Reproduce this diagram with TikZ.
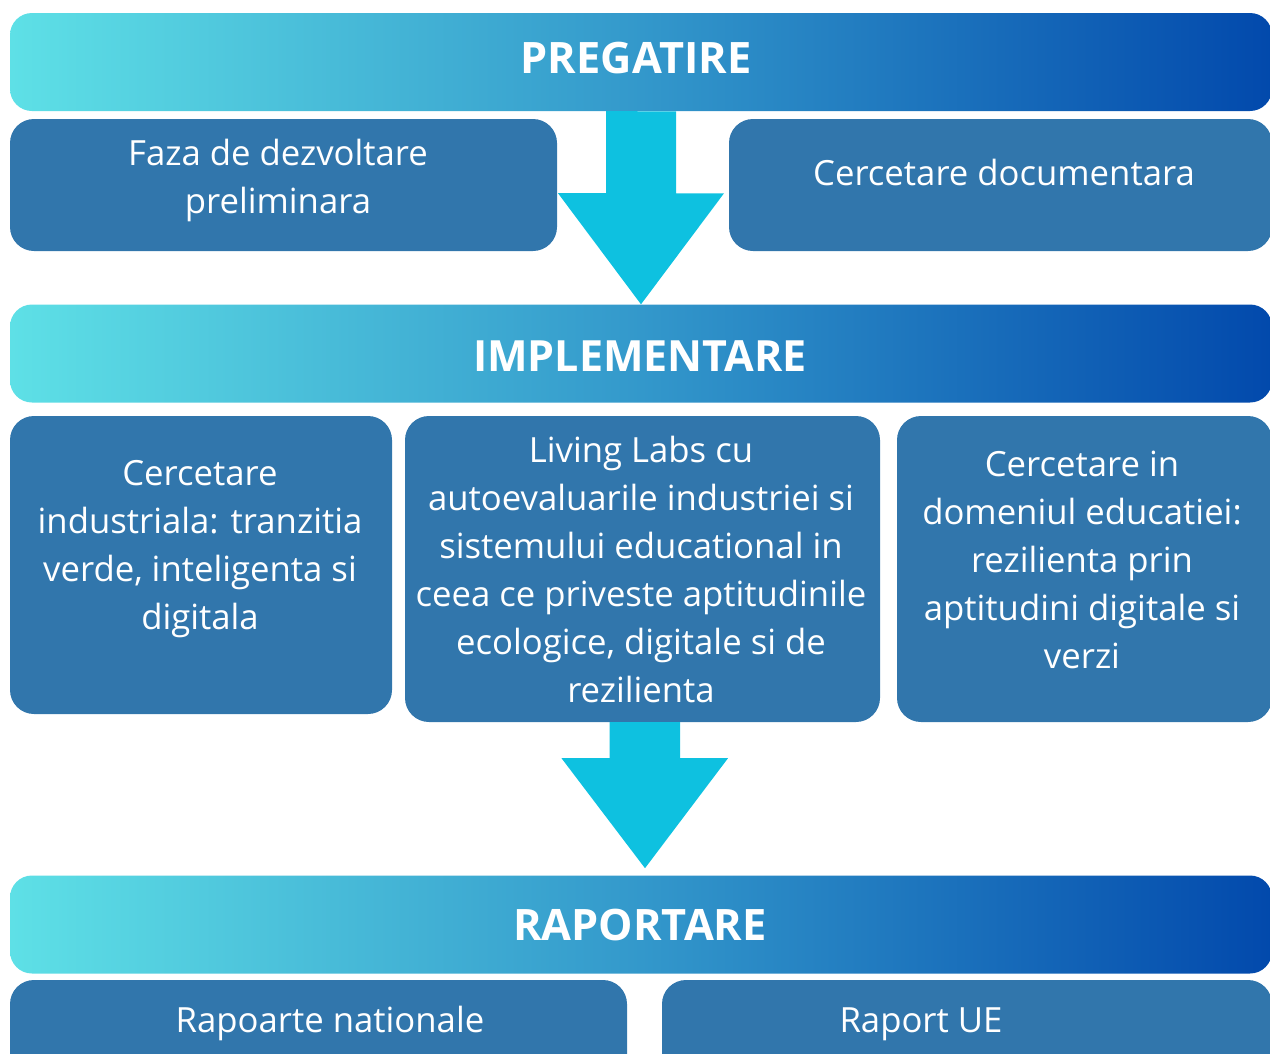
\documentclass[tikz,border=0pt]{standalone}
\usepackage{fontspec}
\setmainfont{Open Sans}
\usetikzlibrary{calc}

\definecolor{bandleft}{RGB}{94,224,230}
\definecolor{bandmid}{RGB}{51,152,203}
\definecolor{bandright}{RGB}{2,73,172}
\definecolor{boxblue}{RGB}{49,118,172}
\definecolor{flowcyan}{RGB}{14,193,224}

\begin{document}
\begin{tikzpicture}[x=1pt,y=-1pt,
	band/.style={rounded corners=22pt,left color=bandleft,right color=bandright,
		middle color=bandmid,minimum width=1262pt,minimum height=98pt,inner sep=0pt},
	card/.style={rounded corners=24pt,fill=boxblue,inner sep=0pt},
	title/.style={text=white,anchor=base,font=\bfseries\fontsize{43.3}{50}\selectfont},
	label/.style={text=white,anchor=base,align=center,font=\fontsize{34.7}{48}\selectfont},
	flow/.style={fill=flowcyan}]
	\useasboundingbox (0,0) rectangle (1270,1053);
	\clip (0,0) rectangle (1270,1053);

	% bands
	\node[band] (pregatire) at (641,62) {};
	\node[band] (implementare) at (641,353.5) {};
	\node[band] (raportare) at (641,924.5) {};

	% cards
	\node[card,minimum width=547pt,minimum height=132pt] (faza) at (283.5,185) {};
	\node[card,minimum width=543pt,minimum height=132pt] (documentara) at (1000.5,185) {};
	\node[card,minimum width=382pt,minimum height=298pt] (industriala) at (201,565) {};
	\node[card,minimum width=475pt,minimum height=306pt] (livinglabs) at (642.5,569) {};
	\node[card,minimum width=375pt,minimum height=306pt] (educatie) at (1084.5,569) {};
	\node[card,minimum width=617pt,minimum height=100pt] (nationale) at (318.5,1030) {};
	\node[card,minimum width=610pt,minimum height=100pt] (ue) at (967,1030) {};

	% texts (base = last line)
	\node[title] (pregatire-t) at (636,73) {PREGATIRE};
	\node[title,font=\bfseries\fontsize{43}{50}\selectfont] (implementare-t) at (640,371) {IMPLEMENTARE};
	\node[title] (raportare-t) at (640,940) {RAPORTARE};

	\node[label] (faza-t) at (278,213) {Faza de dezvoltare\\preliminara};
	\node[label] (documentara-t) at (1004,185) {Cercetare documentara};
	\node[label] (industriala-t) at (200,629) {Cercetare\\industriala: tranzitia\\verde, inteligenta si\\digitala};
	\node[label] (livinglabs-t) at (641,702) {Living Labs cu\\autoevaluarile industriei si\\sistemului educational in\\ceea ce priveste aptitudinile\\ecologice, digitale si de\\rezilienta};
	\node[label] (educatie-t) at (1082,668) {Cercetare in\\domeniul educatiei:\\rezilienta prin\\aptitudini digitale si\\verzi};
	\node[label] (nationale-t) at (330,1032) {Rapoarte nationale};
	\node[label] (ue-t) at (921,1032) {Raport UE};

	% arrows
	\coordinate (tip2) at ($(livinglabs.south)+(2.5,146)$);
	\fill[flow] (pregatire.south) ++(-35,0) -- ++(0,82) -- ++(-48,0) -- (implementare.north)
		-- ++(83,-111) -- ++(-48,0) -- ++(0,-82) -- cycle;
	\fill[flow] (livinglabs.south) ++(-33,0) -- ++(0,36) -- ++(-48,0) -- (tip2)
		-- ++(83,-110) -- ++(-48,0) -- ++(0,-36) -- cycle;
\end{tikzpicture}
\end{document}
